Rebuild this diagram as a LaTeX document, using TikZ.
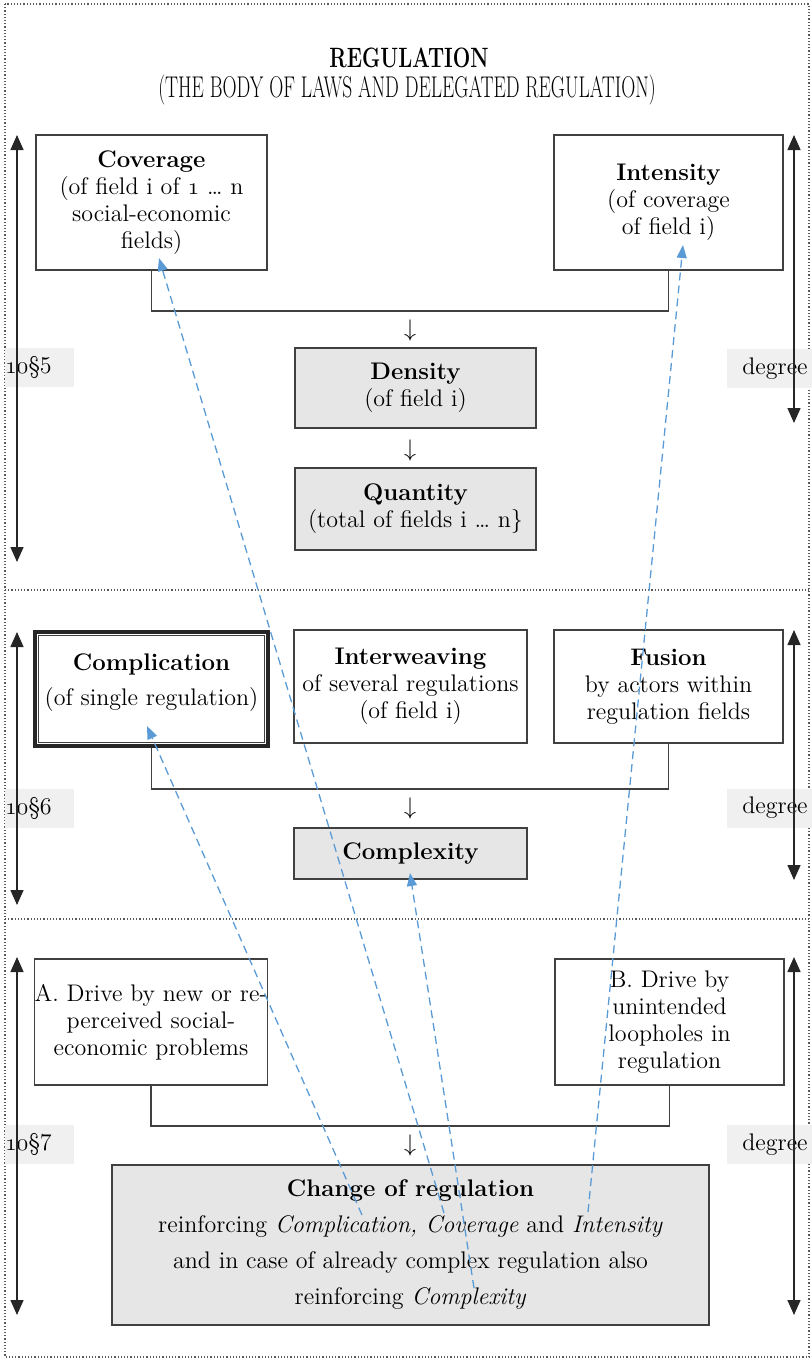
\documentclass[tikz,border=0pt]{standalone}
\usepackage{graphicx}
\usetikzlibrary{arrows.meta, calc}
\definecolor{boxline}{RGB}{64, 64, 64}
\definecolor{boxgrey}{RGB}{230, 230, 230}
\definecolor{labelgrey}{RGB}{240, 240, 240}
\definecolor{linkblue}{RGB}{91, 155, 213}
\newcommand{\oldnum}[1]{{\usefont{OML}{cmm}{m}{it}#1}}
\newcommand{\boxfont}{\fontsize{12}{13.5}\selectfont}

\begin{document}
\begin{tikzpicture}[x=0.5pt, y=0.5pt,
  box/.style={draw=boxline, line width=0.75pt, align=center, inner sep=0pt, font=\boxfont},
  greybox/.style={box, fill=boxgrey},
  tag/.style={fill=labelgrey, inner sep=0pt, minimum height=19.5pt, font=\boxfont},
  scalearrow/.style={<->, >={Triangle[width=6.5pt,length=7.5pt]}, line width=0.75pt, black!85},
  link/.style={->, >={Triangle[width=5pt,length=6.5pt]}, linkblue, line width=0.65pt, dash pattern=on 4pt off 2.5pt},
  bracket/.style={draw=boxline, line width=0.75pt},
  divider/.style={densely dotted, gray!70!black, line width=0.6pt},
  downsym/.style={inner sep=0pt, font=\boxfont}]
  \useasboundingbox (0,0) rectangle (812,-1362);
  \clip (0,0) rectangle (812,-1362);

  % frame and bands
  \draw[divider] (5,-4) rectangle (809,-1357);
  \draw[divider] (5,-590) -- (809,-590);
  \draw[divider] (5,-919) -- (809,-919);

  % title
  \node (title) at (409,-58) {\fontsize{14}{16}\selectfont\scalebox{0.74}[1]{\bfseries REGULATION}};
  \node (subtitle) at (407,-90) {\fontsize{15}{17}\selectfont\scalebox{0.65}[1]{(THE BODY OF LAWS AND DELEGATED REGULATION)}};

  % side labels
  \node[tag, text width=34.5pt, align=left] (lvl1) at (39.5,-367.5) {\oldnum{10}\S5};
  \node[tag, text width=34.5pt, align=left] (lvl2) at (39.5,-808) {\oldnum{10}\S6};
  \node[tag, text width=34.5pt, align=left] (lvl3) at (39.5,-1144.5) {\oldnum{10}\S7};
  \node[tag, anchor=west, inner xsep=7.5pt] (deg1) at (727,-368.5) {degree};
  \node[tag, anchor=west, inner xsep=7.5pt] (deg2) at (727,-808) {degree};
  \node[tag, anchor=west, inner xsep=7.5pt] (deg3) at (727,-1144.5) {degree};

  % scales
  \draw[scalearrow] (17,-135) -- (17,-562);
  \draw[scalearrow] (794,-135) -- (794,-423);
  \draw[scalearrow] (17,-632) -- (17,-905);
  \draw[scalearrow] (794,-630) -- (794,-880);
  \draw[scalearrow] (17,-957) -- (17,-1315);
  \draw[scalearrow] (794,-957) -- (794,-1315);

  % Band 1
  \node[box, minimum width=115.5pt, minimum height=67.5pt] (cov) at (151.5,-202.5) {
    \textbf{Coverage}\\(of field i of \oldnum{1} \dots{} n\\social-economic\\fields)};
  \node[box, minimum width=114.5pt, minimum height=67.5pt] (int) at (668.5,-202.5) {
    \textbf{Intensity}\\(of coverage\\of field i)};
  \draw[bracket] (cov.south) -- ++(0,-40) -| (int.south);
  \node[downsym] (down1) at (410,-330) {$\downarrow$};
  \node[greybox, minimum width=120.5pt, minimum height=40pt] (den) at (415.5,-388) {
    \textbf{Density}\\(of field i)};
  \node[downsym] (down2) at (410,-450) {$\downarrow$};
  \node[greybox, minimum width=120.5pt, minimum height=41pt] (qty) at (415.5,-509) {
    \textbf{Quantity}\\(total of fields i \dots{} n\}};

  % Band 2
  \node[box, line width=1.8pt, draw=black!85, minimum width=116.5pt, minimum height=57pt] (cmp) at (151.5,-689) {
    \textbf{Complication}\\[4pt](of single regulation)\\[-4.5pt]};
  \draw[boxline, line width=0.5pt] ($(cmp.north west)+(5,-5)$) rectangle ($(cmp.south east)+(-5,5)$);
  \node[box, minimum width=116.5pt, minimum height=56.5pt] (itw) at (410.5,-686.5) {
    \textbf{Interweaving}\\of several regulations\\(of field i)};
  \node[box, minimum width=114.5pt, minimum height=56.5pt] (fus) at (668.5,-686.5) {
    \textbf{Fusion}\\by actors within\\regulation fields};
  \draw[bracket] (cmp.south) -- ++(0,-41) -| (fus.south);
  \node[downsym] (down3) at (410,-808) {$\downarrow$};
  \node[greybox, minimum width=116.5pt, minimum height=25.5pt] (cpx) at (410.5,-853.5) {
    \textbf{Complexity}};

  % Band 3
  \node[box, minimum width=116pt, minimum height=63pt] (drvA) at (151,-1022) {
    A. Drive by new or re-\\perceived social-\\economic problems};
  \node[box, minimum width=114.5pt, minimum height=63pt] (drvB) at (669.5,-1022) {
    B. Drive by\\unintended\\loopholes in\\regulation};
  \draw[bracket] (drvA.south) -- ++(0,-40) -| (drvB.south);
  \node[downsym] (down4) at (410,-1145) {$\downarrow$};
  \node[greybox, minimum width=298.5pt, minimum height=80pt, font={\fontsize{12}{18}\selectfont}] (chg) at (410.5,-1245) {
    \textbf{Change of regulation}\\
    reinforcing \textit{Complication, Coverage} and \textit{Intensity}\\
    and in case of already complex regulation also\\
    reinforcing \textit{Complexity}};

  % feedback links
  \coordinate (srcCmp) at (362,-1215);
  \coordinate (srcCov) at (444,-1213);
  \coordinate (srcCpx) at (474,-1288);
  \coordinate (srcInt) at (588,-1212);
  \coordinate (tipCmp) at (147,-726);
  \coordinate (tipCov) at (159,-258);
  \coordinate (tipCpx) at (410,-873);
  \coordinate (tipInt) at (683,-245);
  \draw[link] (srcCmp) -- (tipCmp);
  \draw[link] (srcCov) -- (tipCov);
  \draw[link] (srcCpx) -- (tipCpx);
  \draw[link] (srcInt) -- (tipInt);
\end{tikzpicture}
\end{document}
